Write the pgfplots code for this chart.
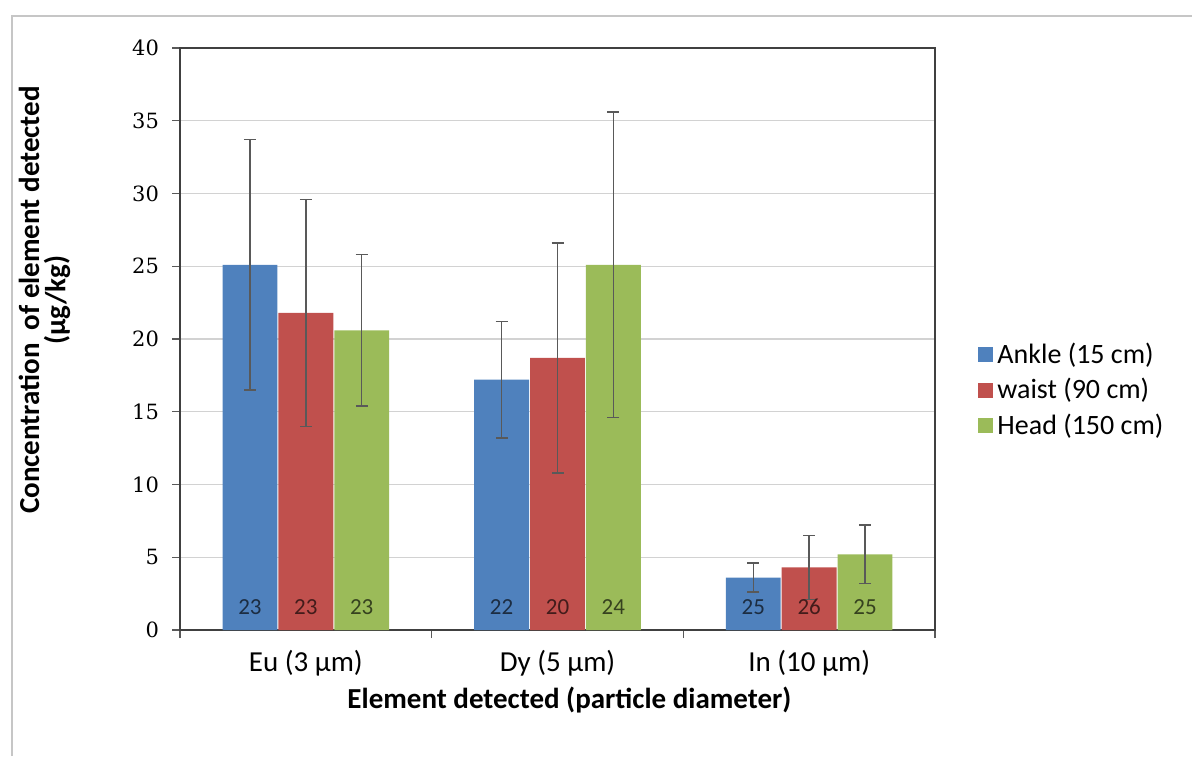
\documentclass[border=0pt]{standalone}
\usepackage{pgfplots}
\pgfplotsset{compat=1.18}
\usepackage{pgfplotstable}
\usepackage{fontspec}
\setmainfont{Carlito}
\newfontfamily\tickfont{DejaVu Serif}

\definecolor{ankle}{HTML}{4F81BD}
\definecolor{waist}{HTML}{C0504D}
\definecolor{head}{HTML}{9BBB59}
\definecolor{errgray}{HTML}{595959}

% x = category index, y = mean, e = error half-width, n = sample count
\pgfplotstableread{
x y e n
0 25.1 8.6 23
1 17.2 4.0 22
2 3.6 1.0 25
}\ankledata
\pgfplotstableread{
x y e n
0 21.8 7.8 23
1 18.7 7.9 20
2 4.3 2.2 26
}\waistdata
\pgfplotstableread{
x y e n
0 20.6 5.2 23
1 25.1 10.5 24
2 5.2 2.0 25
}\headdata

\pgfplotsset{
  sq/.style={legend image code/.code={\fill[##1] (0pt,-3.75pt) rectangle (7.5pt,3.75pt);}},
  errs/.style={error bars/.cd, y dir=both, y explicit,
    error bar style={draw=errgray, line width=0.75pt},
    error mark options={rotate=90, mark size=3pt, line width=0.75pt, draw=errgray}},
  countlbl/.style={forget plot, draw=none, fill=none,
    nodes near coords, point meta=explicit symbolic,
    every node near coord/.append style={anchor=base, yshift=8pt, inner sep=0pt,
      font=\fontsize{11.5}{12}\selectfont, text=#1}},
}

\begin{document}
\begin{tikzpicture}
\useasboundingbox (0,0) rectangle (596pt,378pt);
% chart-area border
\draw[gray!45, line width=1pt] (6pt,0pt) -- (6pt,370pt) -- (596pt,370pt);

\begin{axis}[
  at={(90pt,63pt)}, anchor=south west,
  scale only axis, width=377.5pt, height=291pt,
  ybar, bar width=0.218,
  xmin=-0.5, xmax=2.5, ymin=0, ymax=40,
  xtick={0,1,2},
  xticklabels={Eu (3 µm), Dy (5 µm), In (10 µm)},
  major x tick style={draw=none},
  minor xtick={-0.5,0.5,1.5,2.5},
  minor x tick style={draw=gray!70!black, line width=0.6pt},
  minor tick length=4pt,
  ytick={0,5,...,40},
  tick pos=left, tick align=outside,
  major tick length=4pt,
  y tick style={draw=gray!70!black, line width=0.6pt},
  ymajorgrids, grid style={draw=gray!35, line width=0.6pt},
  axis line style={draw=black!75, line width=0.8pt},
  /pgf/number format/assume math mode=true,
  yticklabel style={font=\tickfont\fontsize{10.5}{11}\selectfont, xshift=-3pt},
  xticklabel style={font=\fontsize{14.5}{15}\selectfont, anchor=center, yshift=-12.5pt},
  xlabel={Element detected (particle diameter)},
  xlabel style={font=\bfseries\fontsize{14.5}{15}\selectfont,
    at={(axis description cs:0.5,0)}, anchor=center, xshift=6pt, yshift=-35pt},
  legend style={at={(1.057,0.412)}, anchor=west, draw=none, fill=none,
    font=\fontsize{14}{15}\selectfont, row sep=2pt, inner sep=0pt},
  legend cell align=left,
]
\addplot[fill=ankle, draw=none, bar shift=-0.222, sq, errs] table[x=x, y=y, y error=e] {\ankledata};
\addlegendentry{Ankle (15 cm)}
\addplot[fill=waist, draw=none, bar shift=0, sq, errs] table[x=x, y=y, y error=e] {\waistdata};
\addlegendentry{waist (90 cm)}
\addplot[fill=head, draw=none, bar shift=0.222, sq, errs] table[x=x, y=y, y error=e] {\headdata};
\addlegendentry{Head (150 cm)}

% sample counts written at the foot of each bar
\addplot[bar shift=-0.222, countlbl=ankle!35!black] table[x=x, y expr=0, meta=n] {\ankledata};
\addplot[bar shift=0, countlbl=waist!35!black] table[x=x, y expr=0, meta=n] {\waistdata};
\addplot[bar shift=0.222, countlbl=head!35!black] table[x=x, y expr=0, meta=n] {\headdata};
\end{axis}

% two-line y-axis title
\node[rotate=90, font=\bfseries\fontsize{14.5}{15}\selectfont] at (14.5pt,228pt) {Concentration\ \ of element detected};
\node[rotate=90, font=\bfseries\fontsize{14.5}{15}\selectfont] at (28.5pt,228pt) {(µg/kg)};
\end{tikzpicture}
\end{document}
